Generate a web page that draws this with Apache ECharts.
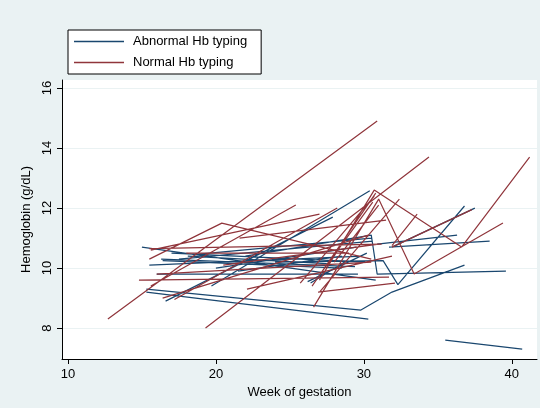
<!DOCTYPE html>
<html>
<head>
<meta charset="utf-8">
<script src="https://cdn.jsdelivr.net/npm/echarts@6/dist/echarts.min.js"></script>
<style>
  html, body { margin: 0; padding: 0; background: #eaf2f3; }
  #chart { width: 540px; height: 408px; }
</style>
</head>
<body>
<div id="chart"></div>
<script>
// each subject: [week, hemoglobin] visits
var abnormalSubjects = [
  [[15.0, 10.7], [30.8, 9.6]],
  [[15.3, 9.3], [29.8, 8.6], [31.9, 9.2], [36.8, 10.1]],
  [[15.3, 9.2], [30.3, 8.3]],
  [[35.5, 7.6], [40.7, 7.3]],
  [[22.0, 10.4], [30.5, 11.1], [30.9, 9.8], [39.6, 9.9]],
  [[24.0, 10.2], [31.3, 10.25], [32.3, 9.45], [36.8, 12.07]],
  [[16.6, 8.9], [27.9, 11.7]],
  [[19.7, 9.4], [30.4, 12.58]],
  [[15.5, 10.1], [29.9, 10.4]],
  [[16.3, 10.3], [29.4, 10.05]],
  [[16.4, 10.25], [28.5, 10.0]],
  [[17.0, 10.5], [30.1, 10.2]],
  [[18.1, 10.4], [27.5, 10.15]],
  [[16.0, 9.8], [29.6, 9.8]],
  [[17.5, 10.3], [30.6, 10.9]],
  [[18.5, 10.45], [30.5, 11.0]],
  [[20.0, 10.0], [29.5, 10.7]],
  [[21.5, 9.9], [28.5, 10.4]],
  [[26.2, 9.55], [30.2, 10.5]],
  [[26.4, 9.5], [28.7, 10.2]],
  [[30.9, 10.8], [36.3, 11.1]],
  [[31.7, 10.7], [38.5, 10.9]],
  [[31.9, 10.7], [37.5, 12.0]]
]
var normalSubjects = [
  [[12.7, 8.3], [30.9, 14.9]],
  [[19.3, 8.0], [34.4, 13.7]],
  [[26.6, 8.7], [31.0, 12.3], [33.4, 9.8], [39.4, 11.5]],
  [[27.0, 9.6], [30.7, 12.6], [36.6, 10.7], [41.2, 13.7]],
  [[14.8, 9.6], [31.7, 9.7]],
  [[15.5, 10.3], [20.4, 11.5], [30.5, 10.3]],
  [[15.5, 10.65], [31.2, 10.8]],
  [[15.6, 9.4], [25.4, 12.1]],
  [[15.6, 10.6], [27.0, 11.8]],
  [[25.7, 9.5], [30.7, 12.4]],
  [[26.5, 9.4], [30.8, 12.5]],
  [[27.2, 9.9], [30.6, 12.2]],
  [[28.0, 10.2], [31.0, 12.1]],
  [[22.1, 9.3], [31.9, 10.4]],
  [[26.9, 9.2], [32.1, 9.5]],
  [[17.2, 8.95], [28.2, 12.0]],
  [[16.4, 9.0], [30.3, 11.1]],
  [[31.9, 10.75], [33.6, 11.8]],
  [[27.0, 9.2], [32.4, 12.3]],
  [[21.6, 11.0], [31.5, 11.6]],
  [[16.0, 9.8], [30.5, 10.2]],
  [[31.9, 10.7], [37.3, 11.95]],
  [[18.0, 10.5], [29.0, 10.5]],
  [[20.5, 10.1], [31.0, 10.8]]
]
var xTicks = [10, 20, 30, 40]
var yTicks = [8, 10, 12, 14, 16]

// join subjects into one line, broken by gaps
function toLine(subjects) {
  var out = []
  subjects.forEach(function(s) {
    s.forEach(function(p) { out.push(p) })
    out.push([null, null])
  })
  return out
}

var chart = echarts.init(document.getElementById('chart'))
chart.setOption({
  backgroundColor: '#eaf2f3',
  textStyle: { fontFamily: 'Liberation Sans, Arial, sans-serif' },
  animation: false,
  legend: {
    left: 68,
    top: 30,
    orient: 'vertical',
    backgroundColor: '#fff',
    borderColor: '#000',
    borderWidth: 1,
    borderRadius: 0,
    padding: [5, 14, 5, 6],
    itemWidth: 50,
    itemHeight: 10,
    itemGap: 8,
    textStyle: { fontSize: 13, color: '#000', padding: [0, 0, 0, 4] },
    data: [
      { name: 'Abnormal Hb typing', icon: 'path://M0,0 L50,0 L50,1.3 L0,1.3 Z' },
      { name: 'Normal Hb typing', icon: 'path://M0,0 L50,0 L50,1.3 L0,1.3 Z' }
    ]
  },
  grid: {
    left: 62,
    right: 3,
    top: 80,
    bottom: 49,
    show: true,
    backgroundColor: '#fff',
    borderWidth: 0
  },
  xAxis: {
    type: 'value',
    min: 9.6,
    max: 41.7,
    name: 'Week of gestation',
    nameLocation: 'middle',
    nameGap: 24,
    nameTextStyle: { fontSize: 13, color: '#000' },
    axisLine: { lineStyle: { color: '#000' } },
    axisTick: { length: 5, customValues: xTicks, lineStyle: { color: '#000' } },
    axisLabel: { customValues: xTicks, fontSize: 13, color: '#000', margin: 9 },
    splitLine: { show: false }
  },
  yAxis: {
    type: 'value',
    min: 6.97,
    max: 16.27,
    name: 'Hemoglobin (g/dL)',
    nameLocation: 'middle',
    nameGap: 20,
    nameTextStyle: { fontSize: 13, color: '#000' },
    axisLine: { show: true, lineStyle: { color: '#000' } },
    axisTick: { show: true, length: 5, customValues: yTicks, lineStyle: { color: '#000' } },
    axisLabel: { customValues: yTicks, fontSize: 13, color: '#000', rotate: 90, margin: 8 },
    splitLine: { show: true, lineStyle: { color: '#eaf2f3', width: 1 } }
  },
  series: [
    {
      name: 'Abnormal Hb typing',
      type: 'line',
      data: toLine(abnormalSubjects),
      showSymbol: false,
      connectNulls: false,
      color: '#1a476f',
      lineStyle: { width: 1.2, color: '#1a476f' }
    },
    {
      name: 'Normal Hb typing',
      type: 'line',
      data: toLine(normalSubjects),
      showSymbol: false,
      connectNulls: false,
      color: '#90353b',
      lineStyle: { width: 1.2, color: '#90353b' }
    }
  ]
})
</script>
</body>
</html>
